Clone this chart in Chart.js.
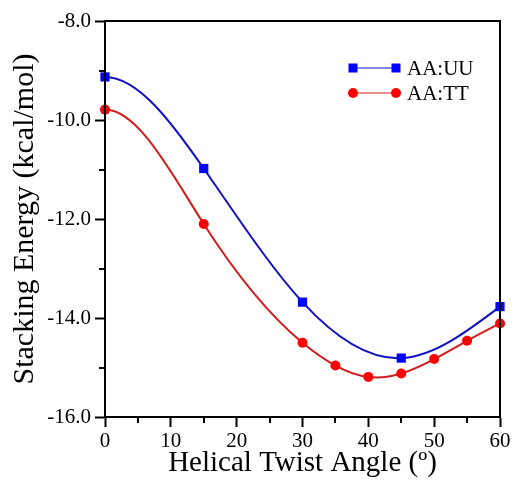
<!DOCTYPE html>
<html>
<head>
<meta charset="utf-8">
<script src="https://cdn.jsdelivr.net/npm/chart.js@4.4.1/dist/chart.umd.min.js"></script>
<style>
  html, body { margin: 0; padding: 0; background: #fff; }
  canvas { display: block; }
</style>
</head>
<body>
<canvas id="energyChart" width="514" height="482"></canvas>
<script>
// stacking energy vs helical twist
const twistUU = [0, 15, 30, 45, 60];
const energyUU = [-9.13, -10.98, -13.68, -14.81, -13.77];
const twistTT = [0, 15, 30, 35, 40, 45, 50, 55, 60];
const energyTT = [-9.79, -12.10, -14.50, -14.96, -15.19, -15.12, -14.83, -14.46, -14.11];
const seriesNames = ['AA:UU', 'AA:TT'];
const xMajor = [0, 10, 20, 30, 40, 50, 60];
const yMajor = [-16, -14, -12, -10, -8];

const serif = "'Liberation Serif', 'Times New Roman', serif";

function toPoints(xs, ys) {
  return xs.map((x, i) => ({ x: x, y: ys[i] }));
}

// cubic spline slopes (flat start, natural end) for the point pixels
function splineSlopes(xs, ys) {
  const n = xs.length;
  const h = [], d = [];
  for (let i = 0; i < n - 1; i++) {
    h.push(xs[i + 1] - xs[i]);
    d.push((ys[i + 1] - ys[i]) / h[i]);
  }
  // tridiagonal system for second derivatives M[0..n-2], M[n-1] = 0
  const m = n - 1;
  const a = new Array(m).fill(0), b = new Array(m).fill(0), c = new Array(m).fill(0), r = new Array(m).fill(0);
  b[0] = 2 * h[0]; c[0] = h[0]; r[0] = 6 * d[0];
  for (let i = 1; i < m; i++) {
    a[i] = h[i - 1];
    b[i] = 2 * (h[i - 1] + h[i]);
    c[i] = i + 1 < m ? h[i] : 0;
    r[i] = 6 * (d[i] - d[i - 1]);
  }
  for (let i = 1; i < m; i++) {
    const w = a[i] / b[i - 1];
    b[i] -= w * c[i - 1];
    r[i] -= w * r[i - 1];
  }
  const M = new Array(n).fill(0);
  M[m - 1] = r[m - 1] / b[m - 1];
  for (let i = m - 2; i >= 0; i--) M[i] = (r[i] - c[i] * M[i + 1]) / b[i];
  const s = [];
  for (let i = 0; i < n - 1; i++) s.push(d[i] - h[i] * (2 * M[i] + M[i + 1]) / 6);
  s.push(d[n - 2] + h[n - 2] * (M[n - 2] + 2 * M[n - 1]) / 6);
  return s;
}

// replace the default bezier control points with spline ones
const splinePlugin = {
  id: 'splinePlugin',
  beforeDatasetsDraw(chart) {
    chart.data.datasets.forEach((ds, di) => {
      const meta = chart.getDatasetMeta(di);
      const pts = meta.data;
      const xs = pts.map(p => p.x), ys = pts.map(p => p.y);
      const s = splineSlopes(xs, ys);
      for (let i = 0; i < pts.length; i++) {
        const hl = i > 0 ? (xs[i] - xs[i - 1]) / 3 : 0;
        const hr = i < pts.length - 1 ? (xs[i + 1] - xs[i]) / 3 : 0;
        pts[i].cp1x = xs[i] - hl; pts[i].cp1y = ys[i] - s[i] * hl;
        pts[i].cp2x = xs[i] + hr; pts[i].cp2y = ys[i] + s[i] * hr;
      }
      meta.dataset._pointsUpdated = true;
    });
  }
};

// box around the plot, half-length minor ticks and the inset legend
const framePlugin = {
  id: 'framePlugin',
  afterDraw(chart) {
    const ctx = chart.ctx;
    const a = chart.chartArea;
    const sx = chart.scales.x, sy = chart.scales.y;
    ctx.save();
    ctx.strokeStyle = '#000';
    ctx.lineWidth = 2;
    ctx.strokeRect(a.left, a.top, a.right - a.left, a.bottom - a.top);

    ctx.beginPath();
    for (let v = -15; v < -8; v += 2) {
      const y = Math.round(sy.getPixelForValue(v));
      ctx.moveTo(a.left - 6, y);
      ctx.lineTo(a.left, y);
    }
    for (let v = 5; v < 60; v += 10) {
      const x = Math.round(sx.getPixelForValue(v));
      ctx.moveTo(x, a.bottom);
      ctx.lineTo(x, a.bottom + 6);
    }
    ctx.stroke();

    // legend
    const x0 = a.right - 147, x1 = a.right - 104;
    chart.data.datasets.forEach((ds, i) => {
      const y = a.top + 47 + i * 25;
      ctx.strokeStyle = ds.borderColor;
      ctx.lineWidth = 1.2;
      ctx.beginPath();
      ctx.moveTo(x0, y);
      ctx.lineTo(x1, y);
      ctx.stroke();
      ctx.fillStyle = ds.pointBackgroundColor;
      [x0, x1].forEach(px => {
        if (ds.pointStyle === 'rect') {
          ctx.fillRect(px - 4.5, y - 4.5, 9, 9);
        } else {
          ctx.beginPath();
          ctx.arc(px, y, 5, 0, Math.PI * 2);
          ctx.fill();
        }
      });
      ctx.fillStyle = '#000';
      ctx.font = '21px ' + serif;
      ctx.textBaseline = 'middle';
      ctx.textAlign = 'left';
      ctx.fillText(ds.label, x1 + 11, y + 1);
    });
    ctx.restore();
  }
};

new Chart(document.getElementById('energyChart'), {
  type: 'line',
  data: {
    datasets: [
      {
        label: seriesNames[0],
        data: toPoints(twistUU, energyUU),
        borderColor: '#1010c4',
        borderWidth: 2,
        pointStyle: 'rect',
        pointRadius: 6.5,
        pointBackgroundColor: '#0000ff',
        pointBorderWidth: 0,
        tension: 0.4,
        clip: false
      },
      {
        label: seriesNames[1],
        data: toPoints(twistTT, energyTT),
        borderColor: '#d41c1c',
        borderWidth: 2,
        pointStyle: 'circle',
        pointRadius: 5,
        pointBackgroundColor: '#ff0000',
        pointBorderWidth: 0,
        tension: 0.4,
        clip: false
      }
    ]
  },
  options: {
    responsive: false,
    animation: false,
    layout: { padding: { top: 21, right: 14, left: 0, bottom: 0 } },
    plugins: {
      legend: { display: false },
      tooltip: { enabled: false }
    },
    scales: {
      x: {
        type: 'linear',
        min: 0,
        max: 60,
        afterFit(scale) { scale.height = 65; },
        afterBuildTicks(scale) { scale.ticks = xMajor.map(v => ({ value: v })); },
        ticks: {
          color: '#000',
          font: { family: serif, size: 21 },
          padding: 2,
          maxRotation: 0
        },
        grid: { drawOnChartArea: false, tickLength: 10, tickWidth: 2, tickColor: '#000' },
        border: { color: '#000', width: 2 },
        title: {
          display: true,
          text: 'Helical Twist Angle (º)',
          color: '#000',
          font: { family: serif, size: 29 },
          padding: { top: 0, bottom: 1 }
        }
      },
      y: {
        type: 'linear',
        min: -16,
        max: -8,
        afterFit(scale) { scale.width = 105; },
        afterBuildTicks(scale) { scale.ticks = yMajor.map(v => ({ value: v })); },
        ticks: {
          color: '#000',
          font: { family: serif, size: 21 },
          padding: 4,
          callback: v => v.toFixed(1)
        },
        grid: { drawOnChartArea: false, tickLength: 10, tickWidth: 2, tickColor: '#000' },
        border: { color: '#000', width: 2 },
        title: {
          display: true,
          text: 'Stacking Energy (kcal/mol)',
          color: '#000',
          font: { family: serif, size: 30 },
          padding: { top: 7, bottom: 0 }
        }
      }
    }
  },
  plugins: [splinePlugin, framePlugin]
});
</script>
</body>
</html>
